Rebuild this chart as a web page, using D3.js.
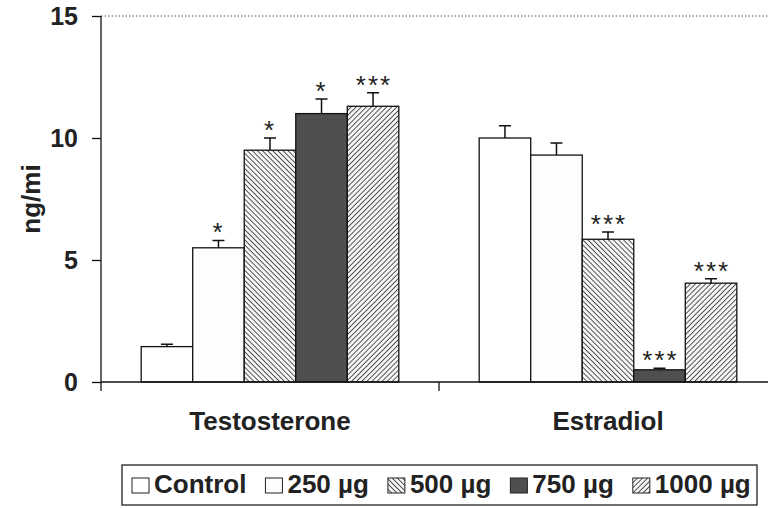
<!DOCTYPE html>
<html>
<head>
<meta charset="utf-8">
<script src="https://cdn.jsdelivr.net/npm/d3@7"></script>
<style>
  body { margin: 0; background: #fff; }
  svg { font-family: "Liberation Sans", Arial, sans-serif; font-weight: bold; }
</style>
</head>
<body>
<svg width="768" height="508"></svg>
<script>
"use strict";

// data
var categories = ["Testosterone", "Estradiol"];
var groups = ["Control", "250 µg", "500 µg", "750 µg", "1000 µg"];
var testosterone = [1.45, 5.5, 9.5, 11.0, 11.3];
var testosteroneErr = [0.1, 0.3, 0.5, 0.6, 0.55];
var estradiol = [10.0, 9.3, 5.85, 0.5, 4.05];
var estradiolErr = [0.5, 0.5, 0.3, 0.06, 0.18];
var testosteroneSig = ["", "*", "*", "*", "***"];
var estradiolSig = ["", "", "***", "***", "***"];
var yTicks = [0, 5, 10, 15];

var svg = d3.select("svg"),
    plotLeft = 101, plotRight = 777,
    plotTop = 16, plotBottom = 382;

var table = categories.map(function(c, i) {
  var vals = i === 0 ? testosterone : estradiol,
      errs = i === 0 ? testosteroneErr : estradiolErr,
      sig = i === 0 ? testosteroneSig : estradiolSig;
  return { cat: c, bars: groups.map(function(g, j) {
    return { cat: c, group: g, value: vals[j], err: errs[j], sig: sig[j] };
  }) };
});

var y = d3.scaleLinear().domain([0, 15]).range([plotBottom, plotTop]);
var x0 = d3.scaleBand().domain(categories).range([plotLeft, plotRight]);
var x1 = d3.scaleBand().domain(groups).range([0, x0.bandwidth()]).paddingOuter(0.78);

// patterns
var defs = svg.append("defs");
function hatch(id, angle, bg) {
  var p = defs.append("pattern").attr("id", id)
      .attr("patternUnits", "userSpaceOnUse")
      .attr("width", 3.6).attr("height", 3.6)
      .attr("patternTransform", "rotate(" + angle + ")");
  p.append("rect").attr("width", 3.6).attr("height", 3.6).attr("fill", bg);
  p.append("line").attr("x1", 0).attr("y1", 0).attr("x2", 0).attr("y2", 3.6)
      .attr("stroke", "#222").attr("stroke-width", 1.5);
}
hatch("h500", -45, "#f6f6f6");
hatch("h1000", 45, "#f6f6f6");

var fills = {
  "Control": "#ffffff",
  "250 µg": "#fdfdfd",
  "500 µg": "url(#h500)",
  "750 µg": "#4f4f4f",
  "1000 µg": "url(#h1000)"
};

// dotted top line
svg.append("line")
    .attr("x1", plotLeft).attr("x2", 768)
    .attr("y1", y(15)).attr("y2", y(15))
    .attr("stroke", "#555").attr("stroke-dasharray", "1.5,2").attr("stroke-width", 1);

var g = svg.selectAll("g.cat").data(table).enter().append("g")
    .attr("class", "cat")
    .attr("transform", function(d) { return "translate(" + x0(d.cat) + ",0)"; });

var bar = g.selectAll("g.bar").data(function(d) { return d.bars; }).enter().append("g")
    .attr("class", "bar");

bar.append("rect")
    .attr("x", function(d) { return x1(d.group); })
    .attr("y", function(d) { return y(d.value); })
    .attr("width", x1.bandwidth())
    .attr("height", function(d) { return y(0) - y(d.value); })
    .attr("fill", function(d) { return fills[d.group]; })
    .attr("stroke", "#111").attr("stroke-width", 1.3);

// error bars
bar.append("path")
    .attr("d", function(d) {
      var cx = x1(d.group) + x1.bandwidth() / 2,
          y1 = y(d.value), y2 = y(d.value + d.err);
      return "M" + cx + "," + y1 + "V" + y2 + "M" + (cx - 6) + "," + y2 + "H" + (cx + 6);
    })
    .attr("fill", "none").attr("stroke", "#111").attr("stroke-width", 1.5);

bar.append("text")
    .attr("x", function(d) { return x1(d.group) + x1.bandwidth() / 2 + (d.sig.length > 1 ? 1 : 0); })
    .attr("y", function(d) { return y(d.value + d.err) + 1; })
    .attr("text-anchor", "middle")
    .attr("font-size", 26).attr("font-weight", "normal")
    .attr("letter-spacing", 2)
    .attr("fill", "#222")
    .text(function(d) { return d.sig; });

// y axis
var yAxis = svg.append("g")
    .attr("transform", "translate(" + plotLeft + ",0)")
    .call(d3.axisLeft(y).tickValues(yTicks).tickSize(9).tickPadding(14).tickFormat(d3.format("d")));
yAxis.select(".domain").attr("stroke", "#111").attr("stroke-width", 1.3)
    .attr("d", "M0," + y(15) + "V" + y(0));
yAxis.selectAll(".tick line").attr("stroke", "#111").attr("stroke-width", 1.3);
yAxis.selectAll(".tick text")
    .attr("font-family", "Liberation Sans, Arial, sans-serif")
    .attr("font-size", 25).attr("font-weight", "bold").attr("fill", "#222");

// x axis
var xAxis = svg.append("g")
    .attr("transform", "translate(0," + plotBottom + ")");
xAxis.append("line").attr("x1", plotLeft).attr("x2", 768)
    .attr("stroke", "#111").attr("stroke-width", 1.3);
xAxis.selectAll("line.tk").data(categories.slice(1)).enter().append("line")
    .attr("class", "tk")
    .attr("x1", function(d) { return x0(d); }).attr("x2", function(d) { return x0(d); })
    .attr("y1", 0).attr("y2", 9)
    .attr("stroke", "#111").attr("stroke-width", 1.3);
xAxis.append("line").attr("x1", plotLeft).attr("x2", plotLeft).attr("y1", 0).attr("y2", 9)
    .attr("stroke", "#111").attr("stroke-width", 1.3);
xAxis.selectAll("text").data(categories).enter().append("text")
    .attr("x", function(d) { return x0(d) + x0.bandwidth() / 2; })
    .attr("y", 48)
    .attr("text-anchor", "middle")
    .attr("font-size", 26).attr("fill", "#222")
    .text(function(d) { return d; });

// y label
svg.append("text")
    .attr("transform", "translate(40," + ((plotTop + plotBottom) / 2) + ") rotate(-90)")
    .attr("text-anchor", "middle")
    .attr("font-size", 26).attr("fill", "#222")
    .text("ng/mi");

// legend
var legend = svg.append("g");
legend.append("rect")
    .attr("x", 122).attr("y", 465).attr("width", 635).attr("height", 40)
    .attr("fill", "#fff").attr("stroke", "#222").attr("stroke-width", 1.3);
var lx = 132;
groups.forEach(function(gname) {
  legend.append("rect")
      .attr("x", lx).attr("y", 478).attr("width", 17).attr("height", 15)
      .attr("fill", fills[gname]).attr("stroke", "#222").attr("stroke-width", 1);
  var t = legend.append("text")
      .attr("x", lx + 22).attr("y", 493)
      .attr("font-size", 26).attr("fill", "#222")
      .text(gname);
  lx += 22 + t.node().getComputedTextLength() + 19;
});
</script>
</body>
</html>
